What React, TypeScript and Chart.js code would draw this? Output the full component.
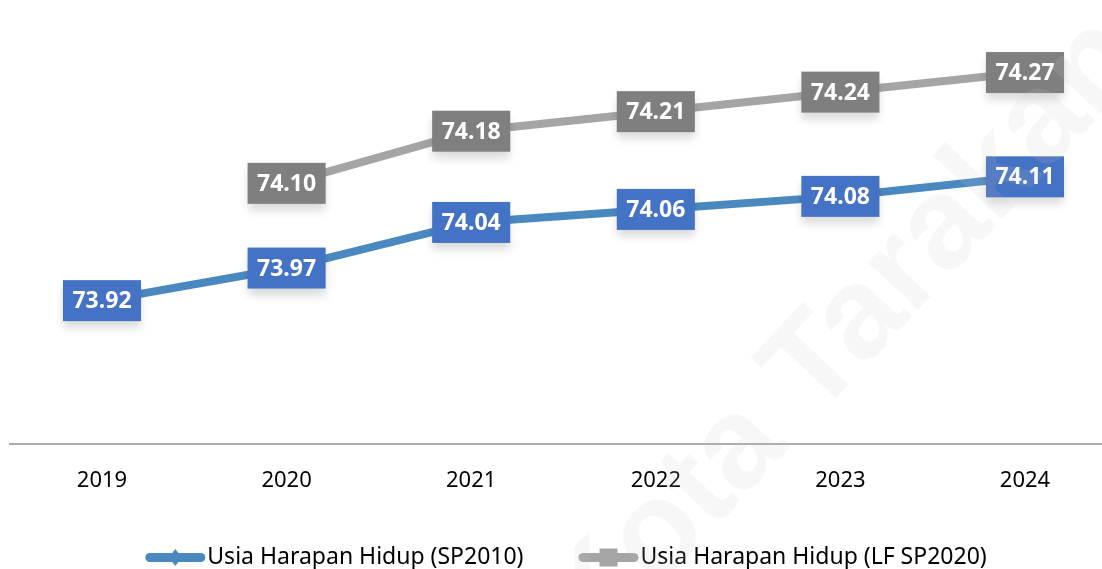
import { useEffect, useRef } from "react";
import { Chart, registerables } from "chart.js";

Chart.register(...registerables);

// ---- data ----
const categories = ["2019", "2020", "2021", "2022", "2023", "2024"];
const sp2010 = [73.92, 73.97, 74.04, 74.06, 74.08, 74.11];
const lfSp2020 = [null, 74.1, 74.18, 74.21, 74.24, 74.27];
const seriesNames = ["Usia Harapan Hidup (SP2010)", "Usia Harapan Hidup (LF SP2020)"];
const yMin = 73.7;
const yMax = 74.3;
const watermarkLead = "BPS Kota ";
const watermarkTail = "Tarakan";

// ---- styles ----
const lineColors = ["#4A89C0", "#A5A5A5"];
const labelBoxColors = ["#4472C4", "#7F7F7F"];
const FONT = '"Noto Sans", "Open Sans", sans-serif';

const boxLabelPlugin = {
  id: "boxLabels",
  afterDatasetsDraw(chart: any) {
    const ctx = chart.ctx;
    chart.data.datasets.forEach((ds: any, i: number) => {
      const meta = chart.getDatasetMeta(i);
      meta.data.forEach((pt: any, j: number) => {
        const v = ds.data[j];
        if (v == null) return;
        const text = Number(v).toFixed(2);
        ctx.save();
        ctx.font = `bold 23px ${FONT}`;
        const w = ctx.measureText(text).width + 19;
        const h = 41;
        const x = pt.x - w / 2;
        const y = pt.y - h / 2;
        ctx.shadowColor = "rgba(0,0,0,0.15)";
        ctx.shadowBlur = 9;
        ctx.shadowOffsetY = 7;
        ctx.fillStyle = labelBoxColors[i];
        ctx.fillRect(x, y, w, h);
        ctx.shadowColor = "transparent";
        ctx.shadowBlur = 0;
        ctx.shadowOffsetY = 0;
        ctx.fillStyle = "#ffffff";
        ctx.textAlign = "center";
        ctx.textBaseline = "middle";
        ctx.fillText(text, pt.x, pt.y + 1);
        ctx.restore();
      });
    });
  },
};

const legendPlugin = {
  id: "lineMarkerLegend",
  afterDraw(chart: any) {
    const ctx = chart.ctx;
    ctx.save();
    ctx.font = `23px ${FONT}`;
    const iconW = 60;
    const gapIconText = 2;
    const gapItems = 55;
    const widths = seriesNames.map((t) => ctx.measureText(t).width);
    const total = widths.reduce((a, w) => a + iconW + gapIconText + w, 0) + gapItems;
    const cx = 566;
    const cy = 557.5;
    let x = cx - total / 2;
    seriesNames.forEach((name, i) => {
      ctx.strokeStyle = lineColors[i];
      ctx.lineWidth = 9;
      ctx.lineCap = "round";
      ctx.beginPath();
      ctx.moveTo(x + 4.5, cy);
      ctx.lineTo(x + iconW - 4.5, cy);
      ctx.stroke();
      ctx.fillStyle = lineColors[i];
      const mx = x + iconW / 2;
      if (i === 0) {
        ctx.beginPath();
        ctx.moveTo(mx, cy - 8.5);
        ctx.lineTo(mx + 6.5, cy);
        ctx.lineTo(mx, cy + 8.5);
        ctx.lineTo(mx - 6.5, cy);
        ctx.closePath();
        ctx.fill();
      } else {
        ctx.fillRect(mx - 9, cy - 9, 18, 18);
      }
      ctx.fillStyle = "#000000";
      ctx.textAlign = "left";
      ctx.textBaseline = "middle";
      ctx.fillText(name, x + iconW + gapIconText, cy);
      x += iconW + gapIconText + widths[i] + gapItems;
    });
    ctx.restore();
  },
};

const watermarkPlugin = {
  id: "watermark",
  afterDraw(chart: any) {
    const ctx = chart.ctx;
    ctx.save();
    ctx.translate(815, 420);
    ctx.rotate((-47 * Math.PI) / 180);
    ctx.font = `bold 130px "Liberation Sans", sans-serif`;
    ctx.fillStyle = "rgba(200,200,200,0.14)";
    ctx.textBaseline = "alphabetic";
    ctx.textAlign = "right";
    ctx.fillText(watermarkLead, 0, 0);
    ctx.textAlign = "left";
    ctx.fillText(watermarkTail, 0, 0);
    ctx.restore();
  },
};

export default function App() {
  const canvasRef = useRef<HTMLCanvasElement | null>(null);

  useEffect(() => {
    if (!canvasRef.current) return;
    const chart = new Chart(canvasRef.current, {
      type: "line",
      data: {
        labels: categories,
        datasets: [
          {
            label: seriesNames[0],
            data: sp2010,
            borderColor: lineColors[0],
            backgroundColor: lineColors[0],
            borderWidth: 8,
            pointRadius: 0,
            tension: 0,
            fill: false,
          },
          {
            label: seriesNames[1],
            data: lfSp2020 as any,
            borderColor: lineColors[1],
            backgroundColor: lineColors[1],
            borderWidth: 8,
            pointRadius: 0,
            tension: 0,
            fill: false,
            spanGaps: false,
          },
        ],
      },
      options: {
        animation: false,
        responsive: false,
        maintainAspectRatio: false,
        layout: { padding: { left: 9.7, right: 13.7, top: 53, bottom: 50.6 } },
        plugins: {
          legend: { display: false },
          tooltip: { enabled: false },
          title: { display: false },
        },
        scales: {
          x: {
            type: "category",
            offset: true,
            grid: { display: false, drawTicks: false },
            border: { display: true, color: "#ADADAD", width: 2 },
            ticks: {
              color: "#000000",
              font: { family: FONT, size: 22 },
              padding: 24,
              maxRotation: 0,
              autoSkip: false,
            },
          },
          y: {
            display: false,
            min: yMin,
            max: yMax,
          },
        },
      },
      plugins: [boxLabelPlugin, legendPlugin, watermarkPlugin],
    });
    return () => chart.destroy();
  }, []);

  return (
    <div
      style={{
        position: "absolute",
        left: 0,
        top: 0,
        width: 1102,
        height: 569,
        overflow: "hidden",
        background: "#ffffff",
      }}
    >
      <canvas ref={canvasRef} width={1131} height={569} style={{ display: "block", width: 1131, height: 569 }} />
    </div>
  );
}
